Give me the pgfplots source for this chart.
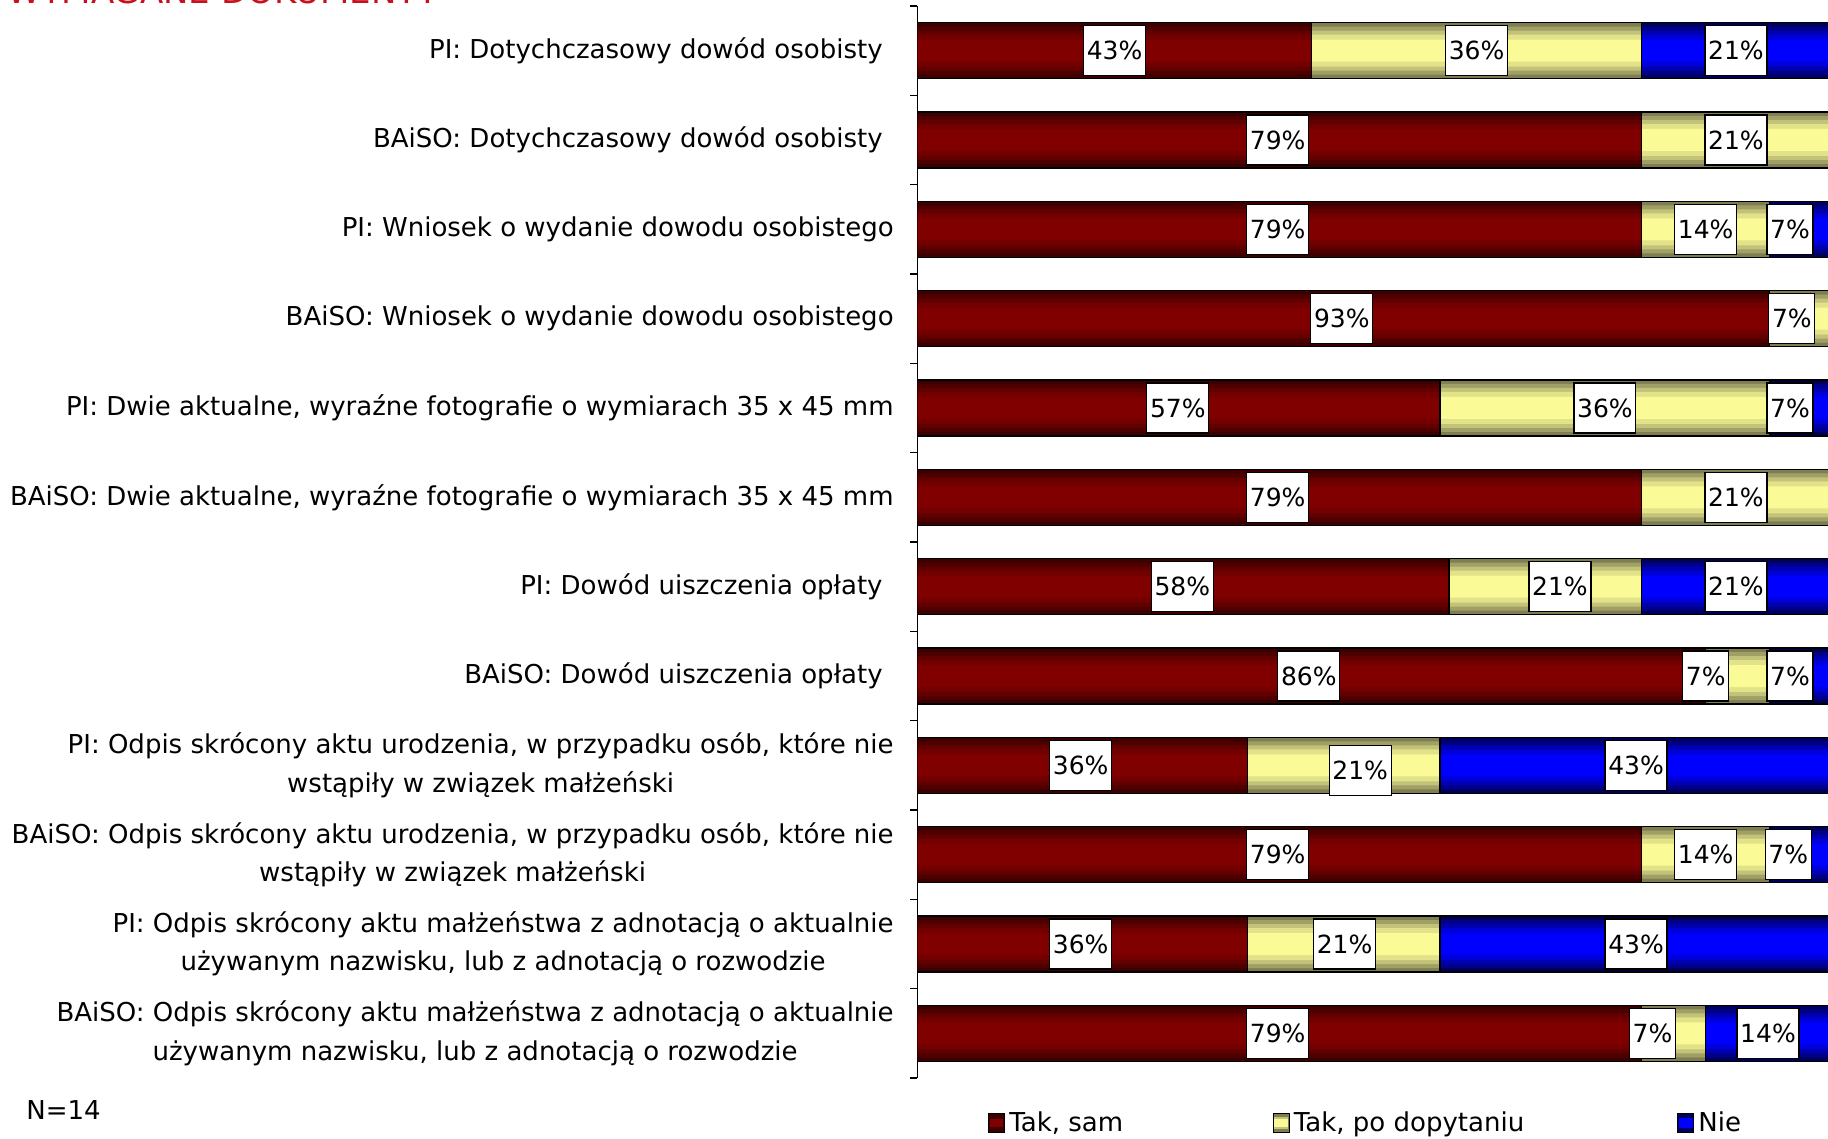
\documentclass[border=0pt]{standalone}
\usepackage{pgfplots}
\pgfplotsset{compat=1.18}
\usepackage{pgfplotstable}
\usepackage{fontspec}
\setmainfont{DejaVu Sans}
\definecolor{rA}{HTML}{3C0000}
\definecolor{rB}{HTML}{4E0000}
\definecolor{rC}{HTML}{620000}
\definecolor{rD}{HTML}{720000}
\definecolor{rE}{HTML}{800000}
\definecolor{yA}{HTML}{7E7E52}
\definecolor{yB}{HTML}{A0A066}
\definecolor{yC}{HTML}{C2C278}
\definecolor{yD}{HTML}{E2E288}
\definecolor{yE}{HTML}{FAFA96}
\definecolor{bA}{HTML}{00005A}
\definecolor{bB}{HTML}{000088}
\definecolor{bC}{HTML}{0000B0}
\definecolor{bD}{HTML}{0000D8}
\definecolor{bE}{HTML}{0000FF}
\definecolor{titlered}{HTML}{C8101E}

\pgfplotstableread{
y sam dop nie
1 43 36 21
2 79 21 0
3 79 14 7
4 93 7 0
5 57 36 7
6 79 21 0
7 58 21 21
8 86 7 7
9 36 21 43
10 79 14 7
11 36 21 43
12 79 7 14
}\bars

\pgfplotstableread{
x y t
21.5 1 43
61.0 1 36
89.3 1 21
39.3 2 79
89.3 2 21
39.3 3 79
86.0 3 14
95.2 3 7
46.3 4 93
95.4 4 7
28.4 5 57
75.0 5 36
95.2 5 7
39.3 6 79
89.3 6 21
28.9 7 58
70.1 7 21
89.3 7 21
42.7 8 86
86.0 8 7
95.2 8 7
17.8 9 36
48.3 9.055 21
78.4 9 43
39.3 10 79
86.0 10 14
95.0 10 7
17.8 11 36
46.6 11 21
78.4 11 43
39.3 12 79
80.2 12 7
92.8 12 14
}\labels

\newcommand{\trail}{\hbox to 5.5pt{}}
\newcommand{\layer}[4]{%
\begin{axis}[geom, hide axis, xbar stacked, bar width=#1]
\addplot[fill=#2, draw=none] table[x=sam,y=y]{\bars};
\addplot[fill=#3, draw=none] table[x=dop,y=y]{\bars};
\addplot[fill=#4, draw=none] table[x=nie,y=y]{\bars};
\end{axis}}

\begin{document}
\begin{tikzpicture}[x=0.5pt,y=0.5pt]
\useasboundingbox (0,0) rectangle (1828,1139);
\pgfplotsset{
  geom/.style={
    scale only axis,
    at={(458.75pt,30.5pt)}, anchor=south west,
    width=458.25pt, height=536pt,
    xmin=0, xmax=100,
    ymin=0.5, ymax=12.5,
    y dir=reverse,
  }
}
\begin{axis}[
  geom,
  xbar stacked,
  bar width=28pt,
  axis x line=none,
  axis y line*=left,
  y axis line style={line width=0.75pt, black},
  xtick=\empty,
  ytick={1,...,12},
  yticklabels={
    {PI: Dotychczasowy dowód osobisty\trail},
    {BAiSO: Dotychczasowy dowód osobisty\trail},
    {PI: Wniosek o wydanie dowodu osobistego},
    {BAiSO: Wniosek o wydanie dowodu osobistego},
    {PI: Dwie aktualne, wyraźne fotografie o wymiarach 35 x 45 mm},
    {BAiSO: Dwie aktualne, wyraźne fotografie o wymiarach 35 x 45 mm},
    {PI: Dowód uiszczenia opłaty\trail},
    {BAiSO: Dowód uiszczenia opłaty\trail},
    {PI: Odpis skrócony aktu urodzenia, w przypadku osób, które nie\\wstąpiły w związek małżeński},
    {BAiSO: Odpis skrócony aktu urodzenia, w przypadku osób, które nie\\wstąpiły w związek małżeński},
    {PI: Odpis skrócony aktu małżeństwa z adnotacją o aktualnie\\używanym nazwisku, lub z adnotacją o rozwodzie},
    {BAiSO: Odpis skrócony aktu małżeństwa z adnotacją o aktualnie\\używanym nazwisku, lub z adnotacją o rozwodzie},
  },
  yticklabel style={align=center, font=\fontsize{13}{19.25}\selectfont, inner sep=0pt, xshift=-11.75pt},
  major tick length=0pt,
  minor ytick={0.5,1.5,...,12.5},
  minor tick length=3.5pt,
  tick align=outside,
  minor tick style={line width=0.75pt, black},
  legend columns=3,
  legend style={at={(0.07,-0.042)}, anchor=west, draw=none, fill=none,
    font=\fontsize{13}{15}\selectfont,
    /tikz/every even column/.append style={column sep=0pt}},
  legend cell align=left,
]
\addplot[fill=rA, draw=none,
  legend image code/.code={\draw[fill=rA, line width=0.6pt] (0pt,-4.75pt) rectangle (8pt,4.75pt); \fill[rE] (0.6pt,-2.2pt) rectangle (7.4pt,2.2pt);}] table[x=sam,y=y]{\bars};
\addlegendentry{\makebox[129.7pt][l]{Tak, sam}}
\addplot[fill=yA, draw=none,
  legend image code/.code={\draw[fill=yA, line width=0.6pt] (0pt,-4.75pt) rectangle (8pt,4.75pt); \fill[yC] (0.6pt,-3.2pt) rectangle (7.4pt,3.2pt); \fill[yE] (0.6pt,-1.8pt) rectangle (7.4pt,1.8pt);}] table[x=dop,y=y]{\bars};
\addlegendentry{\makebox[189.7pt][l]{Tak, po dopytaniu}}
\addplot[fill=bA, draw=none,
  legend image code/.code={\draw[fill=bA, line width=0.6pt] (0pt,-4.75pt) rectangle (8pt,4.75pt); \fill[bE] (0.6pt,-2.6pt) rectangle (7.4pt,2.6pt);}] table[x=nie,y=y]{\bars};
\addlegendentry{Nie}
\end{axis}
\layer{24pt}{rB}{yB}{bB}
\layer{20pt}{rC}{yC}{bC}
\layer{16pt}{rD}{yD}{bD}
\layer{11pt}{rE}{yE}{bE}
\begin{axis}[geom, hide axis, xbar stacked, bar width=28pt]
\addplot[fill=none, draw=black, line width=0.6pt] table[x=sam,y=y]{\bars};
\addplot[fill=none, draw=black, line width=0.6pt] table[x=dop,y=y]{\bars};
\addplot[fill=none, draw=black, line width=0.6pt] table[x=nie,y=y]{\bars};
\end{axis}
\begin{axis}[
  geom, hide axis,
]
\addplot[draw=none, mark=none,
  nodes near coords={\pgfplotspointmeta\%},
  point meta=explicit symbolic,
  every node near coord/.append style={anchor=center, fill=white, draw=black, line width=0.6pt,
    font=\fontsize{12.5}{14}\selectfont, inner xsep=1.6pt, inner ysep=0pt, minimum height=25pt, text=black},
] table[x=x,y=y,meta=t]{\labels};
\end{axis}
\node[anchor=base west, text=titlered, font=\fontsize{17}{20}\selectfont, inner sep=0pt] at (7,1135.5) {WYMAGANE DOKUMENTY};
\node[anchor=base west, font=\fontsize{13}{15}\selectfont, inner sep=0pt] at (26,19.5) {N=14};
\end{tikzpicture}
\end{document}
